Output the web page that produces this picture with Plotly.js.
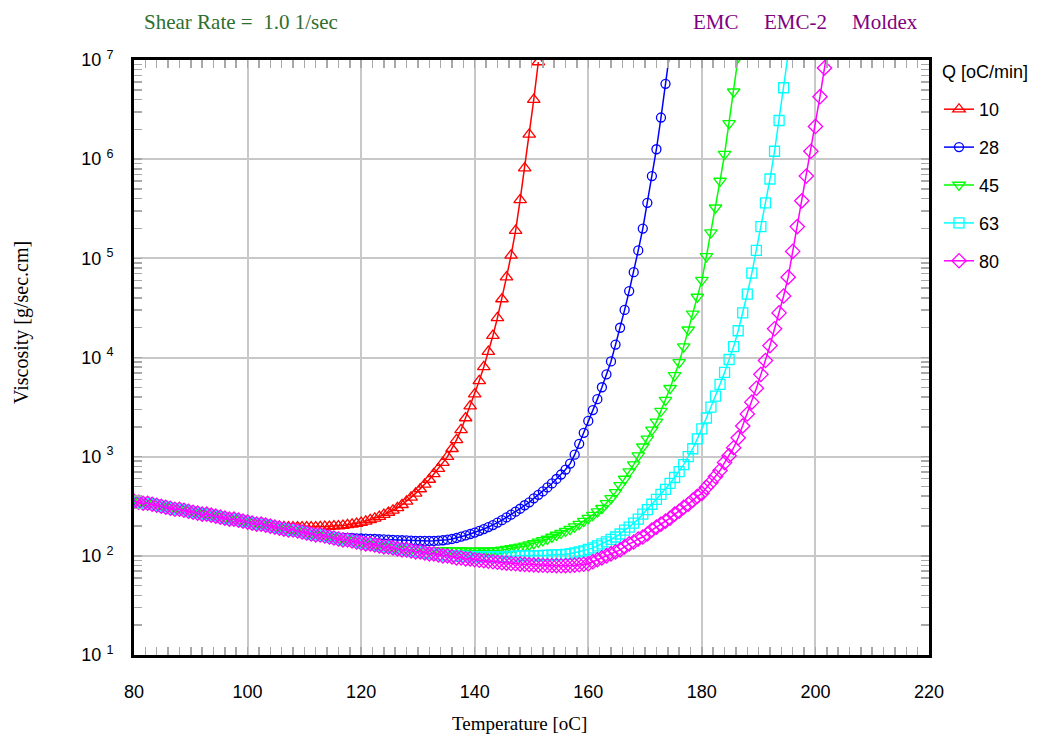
<!DOCTYPE html>
<html>
<head>
<meta charset="utf-8">
<script src="https://cdn.plot.ly/plotly-3.0.1.min.js"></script>
<style>
html,body{margin:0;padding:0;background:#ffffff;}
#chart{width:1044px;height:736px;}
</style>
</head>
<body>
<div id="chart"></div>
<script>
// ---- data ----
// Samples are taken every TEMP_STEP degC starting at TEMP_START degC.
const TEMP_START = 80;
const TEMP_STEP = 0.8;
const heatingRates = ['10', '28', '45', '63', '80'];   // Q [oC/min]
const legendTitle = 'Q [oC/min]';

// log10 of viscosity [g/sec.cm] for each heating rate
const logViscQ10 = [
  2.55,2.54,2.53,2.53,2.52,2.51,2.50,2.49,2.48,2.47,
  2.47,2.46,2.45,2.44,2.43,2.42,2.42,2.41,2.40,2.39,
  2.38,2.37,2.37,2.36,2.35,2.34,2.33,2.32,2.32,2.31,
  2.30,2.297,2.295,2.293,2.291,2.29,2.29,2.29,2.29,2.29,
  2.29,2.292,2.294,2.296,2.30,2.30,2.306,2.312,2.318,2.326,
  2.335,2.348,2.362,2.378,2.396,2.415,2.437,2.459,2.484,2.515,
  2.55,2.59,2.63,2.674,2.72,2.77,2.826,2.88,2.94,3.00,
  3.08,3.17,3.27,3.39,3.51,3.63,3.765,3.905,4.06,4.22,
  4.40,4.59,4.81,5.03,5.28,5.59,5.91,6.25,6.60,6.98
];
const logViscQ28 = [
  2.55,2.54,2.53,2.53,2.52,2.51,2.50,2.49,2.48,2.47,
  2.47,2.46,2.45,2.44,2.43,2.42,2.42,2.41,2.40,2.39,
  2.38,2.37,2.37,2.36,2.35,2.34,2.33,2.32,2.32,2.31,
  2.30,2.29,2.28,2.27,2.26,2.26,2.25,2.24,2.23,2.22,
  2.21,2.205,2.20,2.193,2.19,2.185,2.183,2.18,2.18,2.177,
  2.175,2.173,2.171,2.17,2.167,2.165,2.163,2.161,2.159,2.157,
  2.155,2.153,2.151,2.15,2.15,2.15,2.151,2.153,2.157,2.163,
  2.17,2.18,2.193,2.206,2.22,2.235,2.252,2.27,2.29,2.31,
  2.335,2.36,2.387,2.415,2.445,2.475,2.51,2.54,2.58,2.615,
  2.65,2.69,2.73,2.775,2.82,2.87,2.93,3.02,3.13,3.24,
  3.36,3.47,3.58,3.70,3.83,3.96,4.13,4.30,4.48,4.67,
  4.86,5.08,5.30,5.56,5.83,6.10,6.42,6.76,7.10
];
const logViscQ45 = [
  2.55,2.54,2.53,2.53,2.52,2.51,2.50,2.49,2.48,2.47,
  2.47,2.46,2.45,2.44,2.43,2.42,2.42,2.41,2.40,2.39,
  2.38,2.37,2.37,2.36,2.35,2.34,2.33,2.32,2.32,2.31,
  2.30,2.29,2.28,2.27,2.26,2.26,2.25,2.24,2.23,2.22,
  2.21,2.21,2.20,2.19,2.18,2.17,2.16,2.16,2.15,2.14,
  2.13,2.12,2.12,2.11,2.10,2.09,2.085,2.08,2.075,2.07,
  2.065,2.063,2.06,2.06,2.057,2.055,2.055,2.055,2.055,2.055,
  2.055,2.053,2.052,2.05,2.05,2.05,2.05,2.05,2.05,2.052,
  2.055,2.06,2.067,2.074,2.082,2.09,2.10,2.113,2.126,2.14,
  2.155,2.17,2.19,2.21,2.23,2.25,2.27,2.295,2.32,2.35,
  2.38,2.41,2.445,2.48,2.53,2.58,2.64,2.71,2.775,2.85,
  2.92,3.01,3.10,3.18,3.27,3.35,3.46,3.57,3.69,3.82,
  3.95,4.11,4.28,4.44,4.61,4.78,5.02,5.26,5.51,5.78,
  6.05,6.36,6.68,7.03,7.38
];
const logViscQ63 = [
  2.55,2.54,2.53,2.53,2.52,2.51,2.50,2.49,2.48,2.47,
  2.47,2.46,2.45,2.44,2.43,2.42,2.42,2.41,2.40,2.39,
  2.38,2.37,2.37,2.36,2.35,2.34,2.33,2.32,2.32,2.31,
  2.30,2.29,2.28,2.27,2.26,2.26,2.25,2.24,2.23,2.22,
  2.21,2.21,2.20,2.19,2.18,2.17,2.16,2.16,2.15,2.14,
  2.13,2.12,2.12,2.11,2.10,2.09,2.09,2.08,2.07,2.06,
  2.06,2.05,2.04,2.04,2.03,2.025,2.02,2.01,2.01,2.00,
  2.00,2.00,1.995,1.995,1.99,1.99,1.99,1.99,1.99,1.99,
  1.99,1.99,1.99,1.995,1.995,2.00,2.00,2.00,2.00,2.00,
  2.005,2.005,2.01,2.01,2.01,2.015,2.02,2.03,2.04,2.05,
  2.065,2.08,2.10,2.12,2.14,2.165,2.19,2.22,2.26,2.29,
  2.33,2.37,2.42,2.465,2.52,2.57,2.62,2.67,2.73,2.79,
  2.85,2.92,3.00,3.08,3.18,3.28,3.39,3.50,3.61,3.73,
  3.85,3.98,4.11,4.27,4.45,4.64,4.85,5.08,5.32,5.56,
  5.80,6.08,6.39,6.72,7.06
];
const logViscQ80 = [
  2.55,2.54,2.53,2.53,2.52,2.51,2.50,2.49,2.48,2.47,
  2.47,2.46,2.45,2.44,2.43,2.42,2.42,2.41,2.40,2.39,
  2.38,2.37,2.37,2.36,2.35,2.34,2.33,2.32,2.32,2.31,
  2.30,2.29,2.28,2.27,2.26,2.26,2.25,2.24,2.23,2.22,
  2.21,2.21,2.20,2.19,2.18,2.17,2.16,2.16,2.15,2.14,
  2.13,2.12,2.12,2.11,2.10,2.09,2.09,2.08,2.07,2.06,
  2.06,2.05,2.04,2.04,2.03,2.02,2.02,2.01,2.00,2.00,
  1.99,1.98,1.98,1.97,1.97,1.96,1.955,1.95,1.945,1.94,
  1.935,1.93,1.927,1.923,1.92,1.917,1.914,1.911,1.909,1.907,
  1.905,1.903,1.902,1.901,1.900,1.901,1.903,1.906,1.91,1.915,
  1.92,1.94,1.96,1.98,2.00,2.02,2.04,2.06,2.09,2.12,
  2.14,2.17,2.19,2.22,2.26,2.29,2.32,2.35,2.38,2.42,
  2.45,2.49,2.52,2.56,2.60,2.63,2.69,2.74,2.80,2.86,
  2.94,3.01,3.09,3.19,3.31,3.43,3.55,3.69,3.83,3.97,
  4.12,4.29,4.45,4.62,4.81,5.07,5.32,5.58,5.83,6.08,
  6.33,6.63,6.92,7.22
];

// ---- styling ----
const seriesLog = [logViscQ10, logViscQ28, logViscQ45, logViscQ63, logViscQ80];
const colors = ['#ff0000', '#0000ff', '#00ff00', '#00ffff', '#ff00ff'];
const symbols = ['triangle-up-open', 'circle-open', 'triangle-down-open', 'square-open', 'diamond-open'];
const sizes = [11, 9, 11, 10, 11];

const traces = seriesLog.map((arr, k) => ({
  type: 'scatter',
  mode: 'lines+markers',
  name: heatingRates[k],
  legendgroup: 'q' + k,
  x0: TEMP_START,
  dx: TEMP_STEP,
  y: arr.map(v => Math.pow(10, v)),
  line: {color: colors[k], width: 1.5},
  marker: {symbol: symbols[k], size: sizes[k], color: colors[k], line: {color: colors[k], width: 1.3}},
  cliponaxis: true,
  hoverinfo: 'skip'
}));

// Tick label text "10 ^n" for the log axis (maps Plotly's default labels)
const alias = {};
const defaultLabels = [
  ['10'], ['100'], ['1000', '1,000', '1k'], ['10000', '10,000', '10k'],
  ['100000', '100,000', '100k'], ['1000000', '1,000,000', '1M'], ['10000000', '10,000,000', '10M']
];
defaultLabels.forEach((keys, i) => keys.forEach(k => { alias[k] = '10 <sup>' + (i + 1) + '</sup>'; }));

const plotL = 134, plotR = 929, plotT = 60, plotB = 655;
const W = 1044, H = 736;
const px = x => (x - plotL) / (plotR - plotL);
const py = y => (plotB - y) / (plotB - plotT);

const serif = 'Liberation Serif, Times New Roman, serif';
const sans = 'Liberation Sans, Arial, sans-serif';
const tickGray = '#a8a8a8';

const layout = {
  width: W, height: H,
  margin: {l: plotL, r: W - plotR, t: plotT, b: H - plotB, autoexpand: false},
  paper_bgcolor: '#ffffff',
  plot_bgcolor: '#ffffff',
  showlegend: true,
  hovermode: false,
  xaxis: {
    range: [80, 220],
    tickmode: 'linear', tick0: 80, dtick: 20,
    showgrid: true, gridcolor: '#c8c8c8', gridwidth: 2,
    zeroline: false,
    showline: true, linecolor: '#000000', linewidth: 3, mirror: 'allticks',
    ticks: 'inside', ticklen: 8, tickcolor: tickGray, tickwidth: 1.5,
    minor: {tickmode: 'linear', tick0: 80, dtick: 2, ticks: 'inside', ticklen: 8, tickcolor: tickGray, tickwidth: 1.5, showgrid: false},
    tickfont: {family: sans, size: 18, color: '#000000'},
    ticklabelstandoff: 18
  },
  yaxis: {
    type: 'log',
    range: [1, 7],
    tickmode: 'linear', tick0: 0, dtick: 1,
    exponentformat: 'none',
    labelalias: alias,
    showgrid: true, gridcolor: '#c8c8c8', gridwidth: 2,
    zeroline: false,
    showline: true, linecolor: '#000000', linewidth: 3, mirror: 'allticks',
    ticks: 'inside', ticklen: 8, tickcolor: tickGray, tickwidth: 1.5,
    minor: {dtick: 'D1', ticks: 'inside', ticklen: 8, tickcolor: tickGray, tickwidth: 1.5, showgrid: false},
    tickfont: {family: sans, size: 18, color: '#000000'},
    ticklabelstandoff: 14
  },
  legend: {
    x: px(939), xanchor: 'left',
    y: py(91), yanchor: 'top',
    bgcolor: 'rgba(0,0,0,0)',
    borderwidth: 0,
    font: {family: sans, size: 18, color: '#000000'},
    tracegroupgap: 11.5,
    itemwidth: 30
  },
  annotations: [
    {text: legendTitle, xref: 'paper', yref: 'paper', x: px(940), y: py(72), xanchor: 'left', yanchor: 'middle', showarrow: false, font: {family: sans, size: 18, color: '#000000'}},
    {text: 'Shear Rate =  1.0 1/sec', xref: 'paper', yref: 'paper', x: px(142), y: py(22), xanchor: 'left', yanchor: 'middle', showarrow: false, font: {family: serif, size: 21, color: '#2e6e2e'}},
    {text: 'EMC', xref: 'paper', yref: 'paper', x: px(691), y: py(22), xanchor: 'left', yanchor: 'middle', showarrow: false, font: {family: serif, size: 21, color: '#800080'}},
    {text: 'EMC-2', xref: 'paper', yref: 'paper', x: px(762), y: py(22), xanchor: 'left', yanchor: 'middle', showarrow: false, font: {family: serif, size: 21, color: '#800080'}},
    {text: 'Moldex', xref: 'paper', yref: 'paper', x: px(850), y: py(22), xanchor: 'left', yanchor: 'middle', showarrow: false, font: {family: serif, size: 21, color: '#800080'}},
    {text: 'Temperature [oC]', xref: 'paper', yref: 'paper', x: px(519), y: py(723), xanchor: 'center', yanchor: 'middle', showarrow: false, font: {family: serif, size: 19, color: '#000000'}},
    {text: 'Viscosity [g/sec.cm]', xref: 'paper', yref: 'paper', x: px(21), y: py(323), xanchor: 'center', yanchor: 'middle', textangle: -90, showarrow: false, font: {family: serif, size: 20, color: '#000000'}}
  ]
};

Plotly.newPlot('chart', traces, layout, {displayModeBar: false, staticPlot: true});
</script>
</body>
</html>
